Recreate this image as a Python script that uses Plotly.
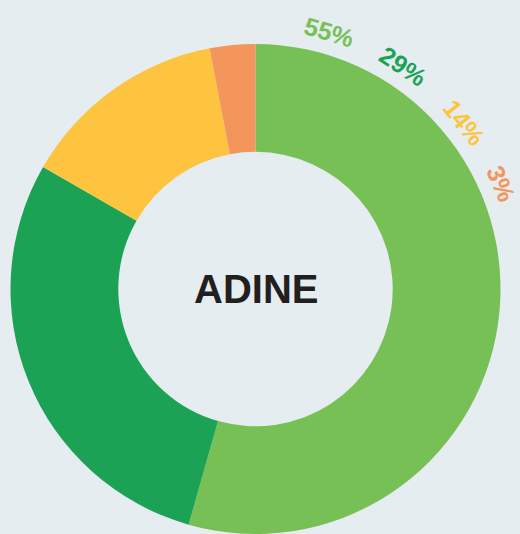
import math
import plotly.graph_objects as go

# Data
categories = ["A", "B", "C", "D"]
values = [54.4, 28.9, 13.7, 3.0]
pct_labels = ["55%", "29%", "14%", "3%"]
center_title = "ADINE"

colors = ["#77c056", "#1ba255", "#fec33f", "#f4965b"]
bg = "#e5edf0"

W, H = 520, 534
cx, cy, R = 255.5, 289, 245

fig = go.Figure(go.Pie(
    labels=categories,
    values=values,
    hole=0.56,
    sort=False,
    direction="clockwise",
    rotation=0,
    marker=dict(colors=colors, line=dict(width=0)),
    textinfo="none",
    hoverinfo="none",
    showlegend=False,
    domain=dict(x=[(cx - R) / W, (cx + R) / W], y=[(H - cy - R) / H, (H - cy + R) / H]),
))

# arc labels at top right
label_angles = [16, 33.5, 51.5, 66.7]
label_r = 267
annotations = []
for txt, ang, col in zip(pct_labels, label_angles, colors):
    a = math.radians(ang)
    px = cx + label_r * math.sin(a)
    py = cy - label_r * math.cos(a)
    annotations.append(dict(
        x=px / W, y=1 - py / H, xref="paper", yref="paper",
        text="<b>" + txt + "</b>", showarrow=False, textangle=ang,
        xanchor="center", yanchor="middle",
        font=dict(family="Liberation Sans, Arial", size=25, color=col),
    ))

annotations.append(dict(
    x=cx / W, y=1 - cy / H, xref="paper", yref="paper",
    text="<b>" + center_title + "</b>", showarrow=False,
    xanchor="center", yanchor="middle",
    font=dict(family="Liberation Sans, Arial", size=40, color="#231f20"),
))

fig.update_layout(
    width=W, height=H,
    margin=dict(l=0, r=0, t=0, b=0),
    paper_bgcolor=bg, plot_bgcolor=bg,
    annotations=annotations,
)

fig.write_html(
    "out.html",
    config={"displayModeBar": False},
    post_script="document.body.style.margin='0';document.body.style.background='%s';" % bg,
)
